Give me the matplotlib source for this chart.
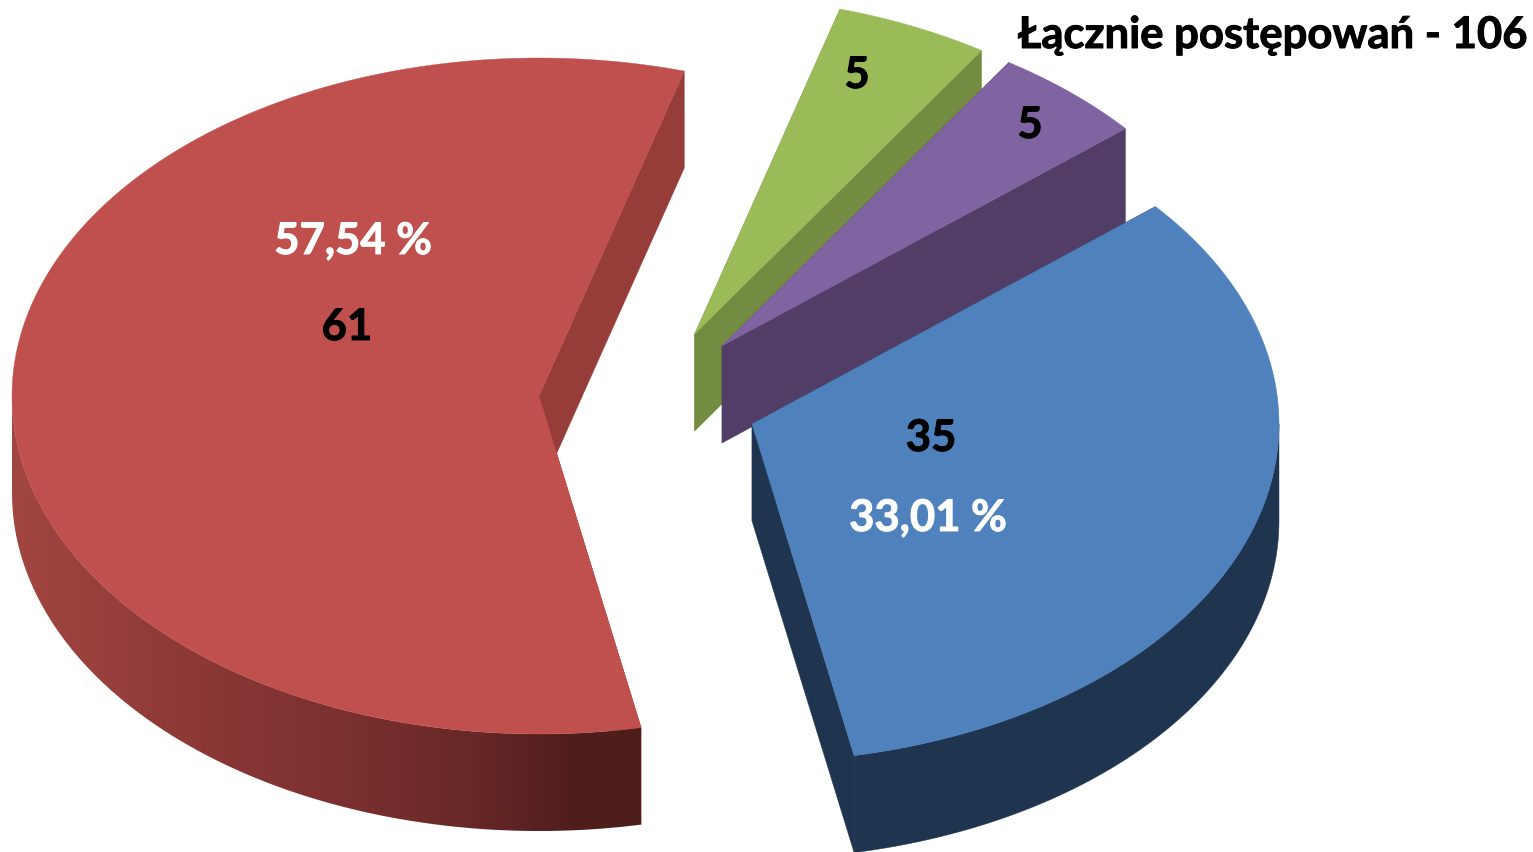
import numpy as np
import matplotlib
matplotlib.use("Agg")
import matplotlib.pyplot as plt
import matplotlib.patheffects as pe
from matplotlib.colors import LinearSegmentedColormap
from matplotlib.patches import Polygon

# values in drawing order, clockwise from the start angle
names = ["zielony", "fioletowy", "niebieski", "czerwony"]
counts = [5, 5, 35, 61]
count_labels = ["5", "5", "35", "61"]
percent_labels = ["", "", "33,01 %", "57,54 %"]
total_label = "Łącznie postępowań - 106"

start_angle = 74.0
rx, ry = 527.0, 338.0
depth = 97.0

# apex of every exploded slice, in pixels
apex = {"zielony": (694.7, 334), "fioletowy": (722, 346), "niebieski": (752, 424), "czerwony": (539, 396)}
top_colors = {"zielony": "#9BBB59", "fioletowy": "#8064A2", "niebieski": "#4F81BD", "czerwony": "#C0504D"}
side_colors = {"zielony": "#748B42", "fioletowy": "#513D66", "niebieski": "#1F344E", "czerwony": "#963D3A"}

red_rim = LinearSegmentedColormap.from_list("red_rim", [
    (0.0, "#A24641"), (0.3, "#8B3836"), (0.54, "#7A302F"),
    (0.73, "#672827"), (0.89, "#501E1C"), (1.0, "#4E1E1B")])

count_pos = {"zielony": (857, 88), "fioletowy": (1030, 138), "niebieski": (931, 451), "czerwony": (347, 340)}
percent_pos = {"niebieski": (928, 531), "czerwony": (353, 254)}

fig = plt.figure(figsize=(15.33, 8.52), dpi=100)
ax = fig.add_axes([0, 0, 1, 1])


def arc(name, a0, a1, drop=0.0):
    t = np.radians(np.linspace(a0, a1, 200))
    cx, cy = apex[name]
    return np.column_stack([cx + rx * np.cos(t), cy - ry * np.sin(t) + drop])


angle = start_angle
for name, n in zip(names, counts):
    a0, a1 = angle, angle - n / sum(counts) * 360
    angle = a1
    cx, cy = apex[name]
    c = side_colors[name]

    # the two cut faces
    for a in (a0, a1):
        p = arc(name, a, a)[0]
        face = [(cx, cy), p, (p[0], p[1] + depth), (cx, cy + depth)]
        ax.add_patch(Polygon(face, closed=True, fc=c, ec=c, lw=0.3, zorder=1))

    # rim, only the part on the front of the pie
    if name == "czerwony":
        rim = np.vstack([arc(name, a0, -180), arc(name, -180, a0, depth)])
        patch = Polygon(rim, closed=True, fc="none", ec="none", zorder=1)
        ax.add_patch(patch)
        im = ax.imshow(np.linspace(0, 1, 512)[None, :], cmap=red_rim, aspect="auto",
                       extent=(rim[:, 0].min(), rim[:, 0].max(), 860, 380), zorder=1.5)
        im.set_clip_path(patch)
    elif name == "niebieski":
        rim = np.vstack([arc(name, 0, a1), arc(name, a1, 0, depth)])
        ax.add_patch(Polygon(rim, closed=True, fc=c, ec=c, lw=0.3, zorder=1))

    # top surface
    t = top_colors[name]
    ax.add_patch(Polygon(np.vstack([[(cx, cy)], arc(name, a0, a1)]), closed=True,
                         fc=t, ec=t, lw=0.3, zorder=2))

font = dict(family="Lato", fontweight="bold", fontsize=31.4, zorder=3, va="baseline")


def heavy(color):
    # Lato bold is a little lighter than the original face
    return [pe.withStroke(linewidth=0.7, foreground=color)]


for name, label in zip(names, count_labels):
    ax.text(*count_pos[name], label, color="black", ha="center", path_effects=heavy("black"), **font)
for name, label in zip(names, percent_labels):
    if label:
        ax.text(*percent_pos[name], label, color="white", ha="center", path_effects=heavy("white"), **font)
ax.text(1018, 48, total_label, color="black", ha="left", path_effects=heavy("black"), **font)

ax.set_xlim(0, 1533)
ax.set_ylim(852, 0)
ax.axis("off")

fig.savefig("out.png", dpi=100, facecolor="white")
